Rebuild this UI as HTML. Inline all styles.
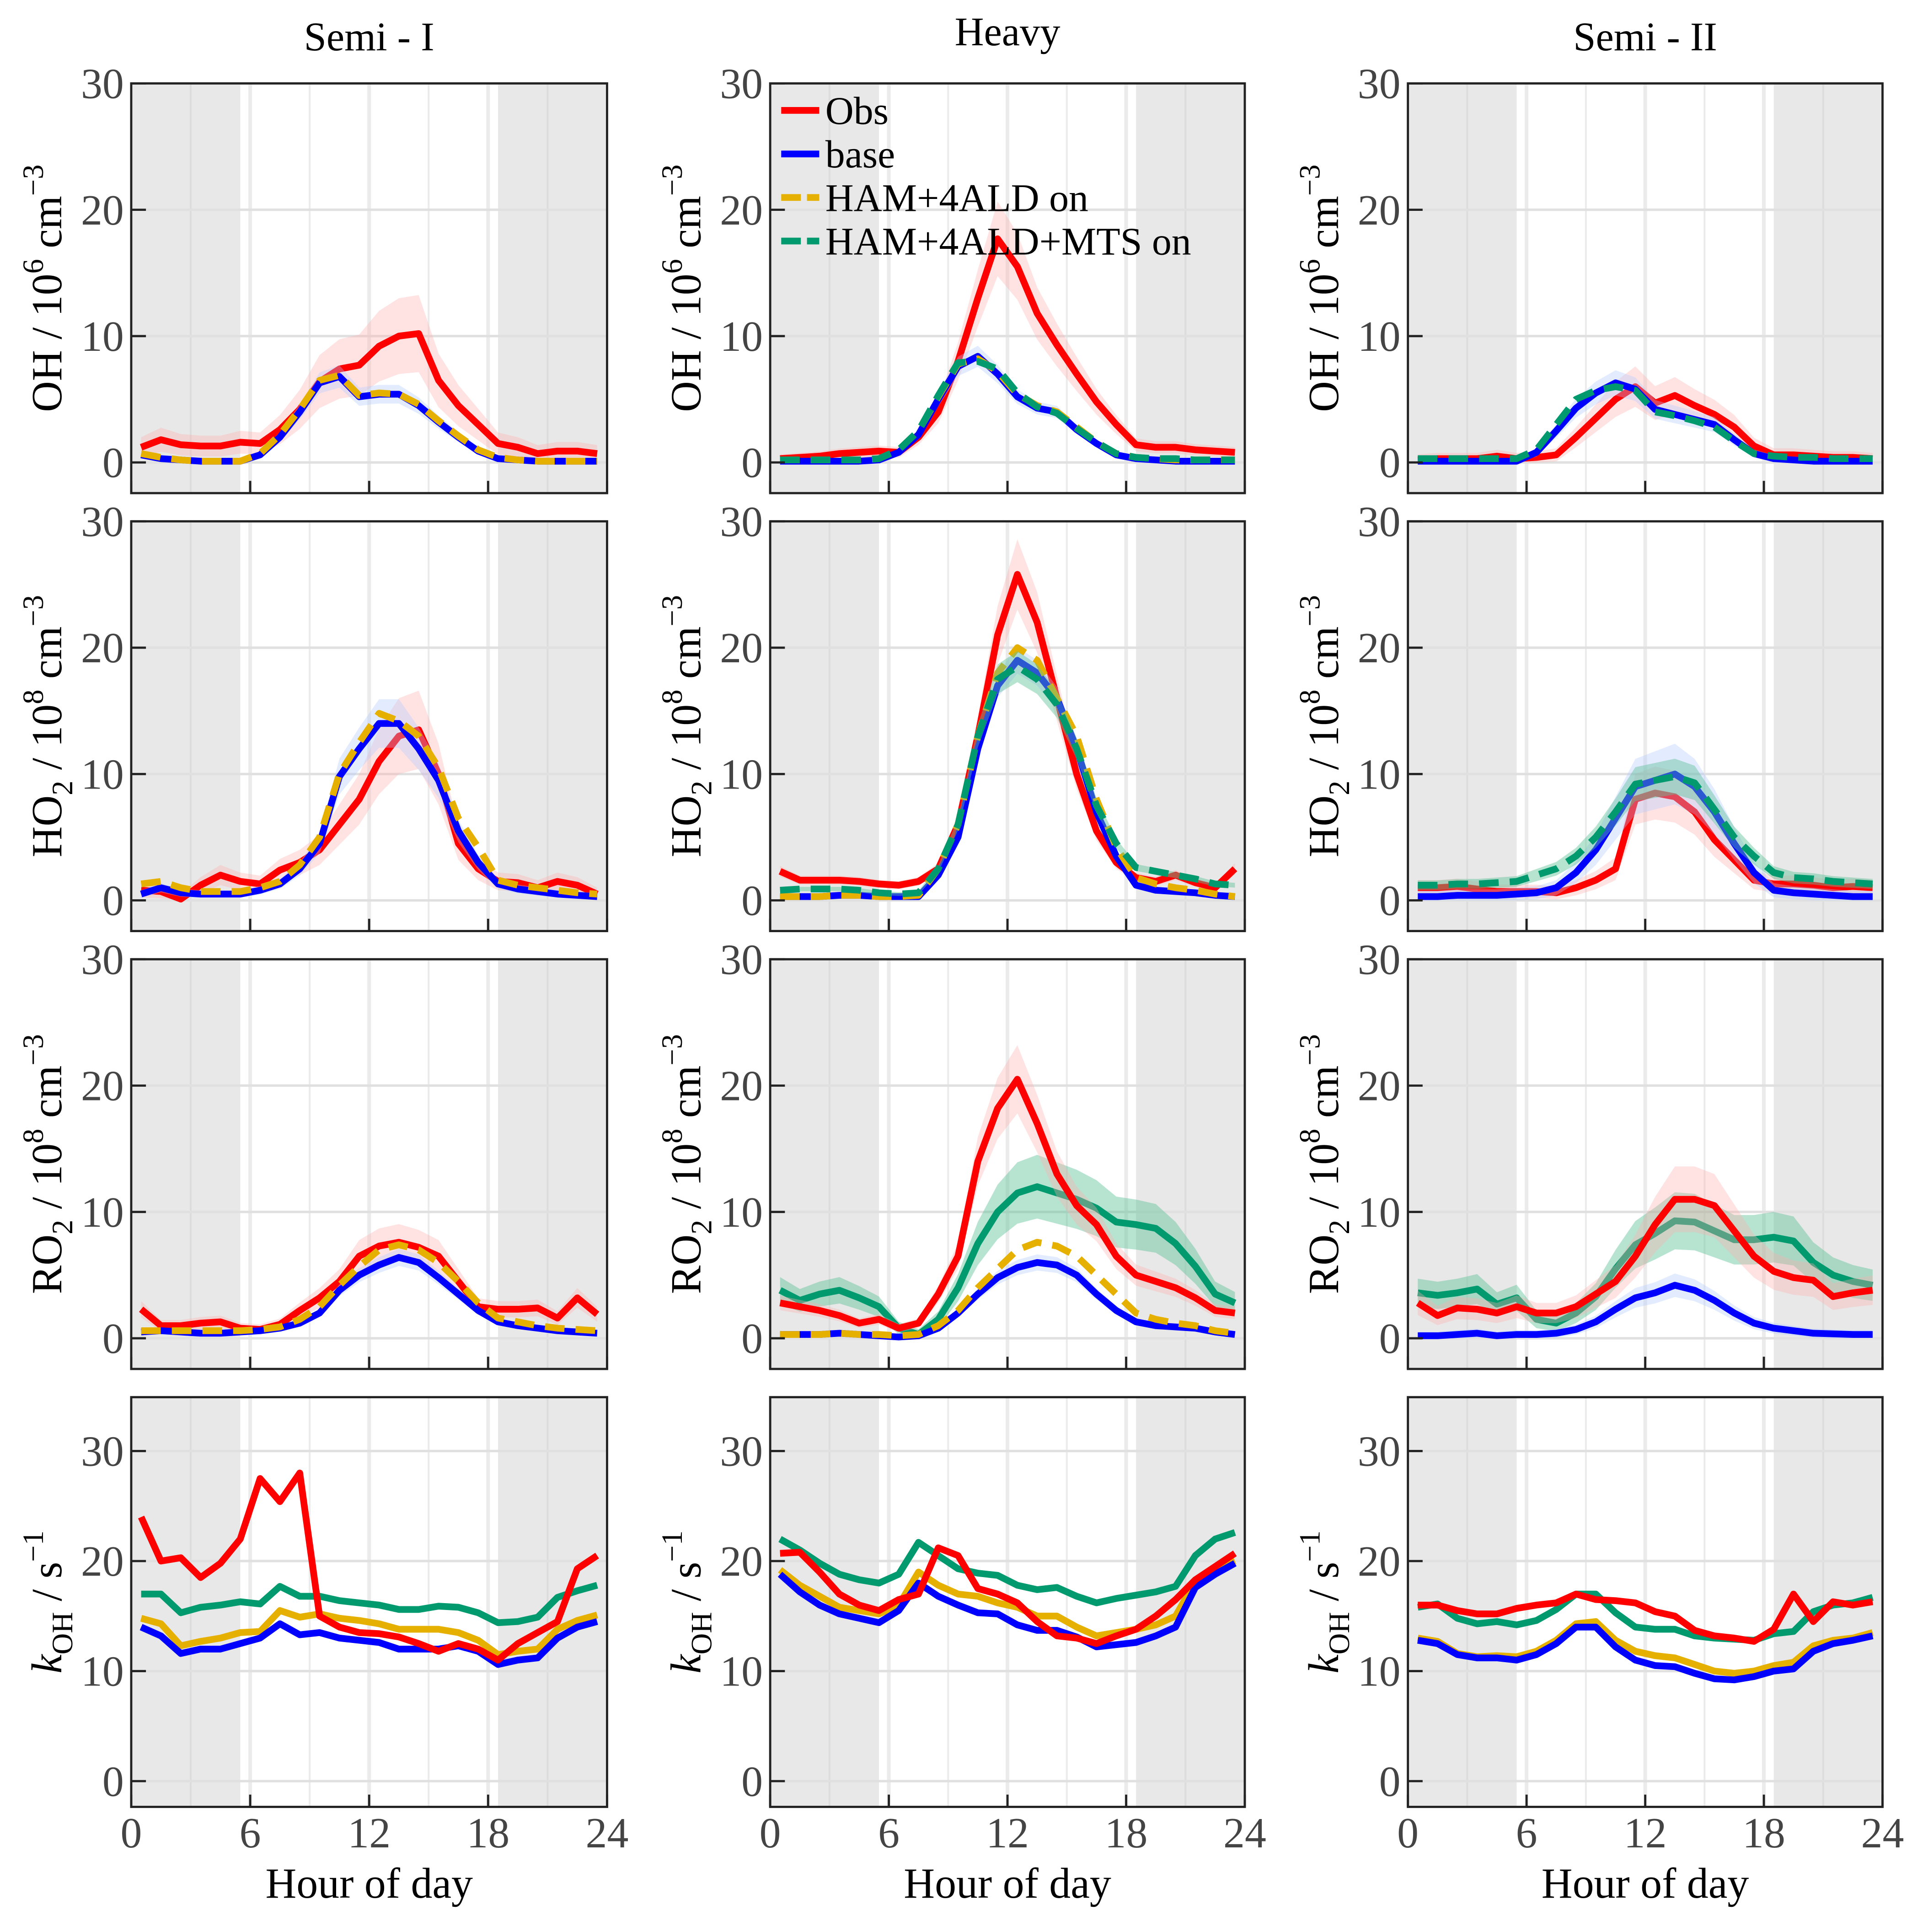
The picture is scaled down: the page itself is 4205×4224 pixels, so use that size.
<!DOCTYPE html>
<html><head><meta charset="utf-8">
<style>
html,body{margin:0;padding:0;background:#fff;}
svg{display:block;font-family:"Liberation Serif",serif;}
</style></head>
<body>
<svg id="fig" width="4205" height="4224" viewBox="0 0 1568 1575" preserveAspectRatio="none" xmlns="http://www.w3.org/2000/svg"></svg>
<script>
// ---- data (hourly means at hour+0.5) ----
const hours = [0.5,1.5,2.5,3.5,4.5,5.5,6.5,7.5,8.5,9.5,10.5,11.5,12.5,13.5,14.5,15.5,16.5,17.5,18.5,19.5,20.5,21.5,22.5,23.5];
const xTicks = [0,6,12,18,24];
const yTicks = [0,10,20,30];
const colTitles = ["Semi - I","Heavy","Semi - II"];
// OH
const ohS1Obs  = [1.2,1.8,1.4,1.3,1.3,1.6,1.5,2.6,4.2,6.4,7.4,7.7,9.2,10,10.2,6.5,4.5,3,1.5,1.2,0.7,0.9,0.9,0.7];
const ohS1Base = [0.6,0.3,0.2,0.1,0.1,0.1,0.6,2,4,6.3,6.8,5.2,5.4,5.4,4.5,3.2,2,0.9,0.3,0.2,0.1,0.1,0.1,0.1];
const ohS1Ham  = [0.7,0.4,0.2,0.1,0.1,0.1,0.7,2.2,4.2,6.5,6.9,5.3,5.5,5.4,4.6,3.3,2.1,1,0.4,0.2,0.1,0.1,0.1,0.1];
const ohHvObs  = [0.3,0.4,0.5,0.7,0.8,0.9,0.8,2,4,8,13,17.7,15.5,11.8,9.3,7,4.8,3,1.4,1.2,1.2,1,0.9,0.8];
const ohHvBase = [0.1,0.1,0.1,0.1,0.1,0.2,0.8,2.2,5,7.6,8.4,7,5.2,4.3,4,2.6,1.5,0.6,0.3,0.2,0.1,0.1,0.1,0.1];
const ohHvHam  = [0.2,0.2,0.2,0.2,0.2,0.3,1,2.5,5.2,7.8,8.2,7.2,5.4,4.5,4,2.8,1.6,0.7,0.4,0.3,0.2,0.2,0.2,0.2];
const ohHvMts  = [0.2,0.2,0.2,0.2,0.2,0.3,1,2.5,5.3,7.9,8,7.4,5.5,4.4,3.9,2.7,1.6,0.7,0.4,0.3,0.3,0.2,0.2,0.2];
const ohS2Obs  = [0.2,0.3,0.3,0.3,0.5,0.3,0.4,0.6,2,3.5,5,6,4.7,5.3,4.5,3.8,2.8,1.3,0.6,0.6,0.5,0.4,0.4,0.3];
const ohS2Base = [0.1,0.1,0.1,0.1,0.1,0.1,0.8,2.5,4.3,5.5,6.3,5.8,4.2,3.8,3.4,3,1.8,0.7,0.3,0.2,0.1,0.1,0.1,0.1];
const ohS2Mts  = [0.3,0.3,0.3,0.3,0.3,0.3,1,3,5,5.7,6,5.7,4,3.7,3.3,2.8,1.7,0.7,0.5,0.4,0.4,0.3,0.3,0.3];
// HO2
const ho2S1Obs  = [0.8,0.7,0.1,1.2,2,1.5,1.3,2.4,3,4,6,8,11,13,13.5,10,4.5,2.5,1.5,1.4,1,1.5,1.2,0.5];
const ho2S1Base = [0.5,1,0.6,0.5,0.5,0.5,0.8,1.3,2.5,4.5,9.8,12,14,14,12,9.5,5.5,3,1.3,0.9,0.7,0.5,0.4,0.3];
const ho2S1Ham  = [1.3,1.5,1,0.7,0.7,0.7,1,1.5,2.8,5,10,12.5,14.8,14.2,13,10.5,6.5,4.2,1.6,1.2,1,0.8,0.6,0.5];
const ho2HvObs  = [2.3,1.6,1.6,1.6,1.5,1.3,1.2,1.5,2.5,6,13,21,25.8,22,16,10,5.5,3,1.8,1.5,2,1.4,1,2.5];
const ho2HvBase = [0.3,0.3,0.3,0.4,0.4,0.3,0.3,0.3,2,5,12,17,19,18,16,12,7,3.5,1.2,0.8,0.7,0.6,0.4,0.3];
const ho2HvHam  = [0.3,0.3,0.3,0.4,0.4,0.3,0.3,0.4,2.5,6,13,18,20,19,16,13,8,4.2,1.8,1.3,1,0.8,0.5,0.3];
const ho2HvMts  = [0.8,0.9,0.9,0.9,0.8,0.6,0.5,0.6,2.5,6,13,17.5,18.5,17.5,15.5,12,7.5,4.5,2.6,2.3,2,1.7,1.3,1.2];
const ho2S2Obs  = [1,1,1.1,0.9,0.7,0.7,0.7,0.6,1,1.6,2.5,8,8.5,8.2,7,4.8,3.2,1.6,1.3,1.3,1.2,1,1.1,1];
const ho2S2Base = [0.3,0.3,0.4,0.4,0.4,0.5,0.6,1,2.2,4,6.5,9,9.5,10,9,7,4.5,2.2,0.8,0.6,0.5,0.4,0.3,0.3];
const ho2S2Mts  = [1.2,1.2,1.3,1.3,1.4,1.5,2,2.5,3.5,5,7,9.2,9.5,9.8,9.3,7.2,5,3.5,2.2,1.8,1.7,1.5,1.4,1.3];
// RO2
const ro2S1Obs  = [2.3,1,1,1.2,1.3,0.8,0.7,1.1,2.2,3.2,4.5,6.5,7.3,7.6,7.2,6.5,4.5,2.5,2.3,2.3,2.4,1.6,3.2,1.9];
const ro2S1Base = [0.5,0.6,0.5,0.4,0.4,0.5,0.6,0.8,1.2,2,3.8,5,5.8,6.4,6,4.8,3.5,2.2,1.3,1,0.8,0.6,0.5,0.4];
const ro2S1Ham  = [0.6,0.6,0.6,0.6,0.6,0.6,0.7,0.9,1.5,2.5,4.2,5.7,7,7.4,7,6,4.5,2.8,1.6,1.3,1,0.8,0.7,0.6];
const ro2HvObs  = [2.8,2.5,2.2,1.8,1.2,1.5,0.8,1.2,3.5,6.5,14,18.2,20.5,17,13,10.5,9,6.5,5,4.5,4,3.2,2.2,2];
const ro2HvBase = [0.3,0.3,0.3,0.4,0.3,0.2,0.1,0.2,0.8,2,3.5,4.8,5.6,6,5.8,5,3.5,2.2,1.3,1,0.9,0.8,0.5,0.3];
const ro2HvHam  = [0.3,0.3,0.3,0.4,0.3,0.3,0.2,0.3,1,2.2,4,5.5,7,7.6,7.3,6.5,5,3.5,2,1.5,1.2,1,0.6,0.4];
const ro2HvMts  = [3.8,3,3.5,3.8,3.2,2.5,0.8,0.3,1.5,4,7.5,10,11.5,12,11.5,11,10.3,9.2,9,8.7,7.5,5.7,3.5,2.8];
const ro2S2Obs  = [2.8,1.8,2.4,2.3,2.0,2.5,2,2,2.5,3.5,4.5,6.5,9,11,11,10.5,8.5,6.5,5.3,4.8,4.6,3.3,3.6,3.8];
const ro2S2Base = [0.2,0.2,0.3,0.4,0.2,0.3,0.3,0.4,0.7,1.3,2.3,3.2,3.6,4.2,3.8,3,2,1.2,0.8,0.6,0.4,0.35,0.3,0.3];
const ro2S2Mts  = [3.6,3.4,3.6,3.9,2.7,3.2,1.5,1.2,2,3.3,5.5,7.4,8.3,9.3,9.2,8.5,7.8,7.8,8,7.7,6,5,4.5,4.2];
// kOH
const kS1Obs  = [24,20,20.3,18.5,19.8,22,27.5,25.4,28,15,14,13.5,13.4,13.1,12.5,11.8,12.5,12,11,12.5,13.5,14.5,19.3,20.5];
const kS1Base = [14,13.2,11.6,12,12,12.5,13,14.3,13.3,13.5,13,12.8,12.6,12,12,12,12.3,11.8,10.6,11,11.2,13,14,14.5];
const kS1Ham  = [14.8,14.3,12.3,12.7,13,13.5,13.6,15.5,14.9,15.2,14.8,14.6,14.3,13.8,13.8,13.8,13.5,12.8,11.5,11.8,12,13.8,14.6,15.1];
const kS1Mts  = [17,17,15.3,15.8,16,16.3,16.1,17.7,16.8,16.8,16.4,16.2,16,15.6,15.6,15.9,15.8,15.3,14.4,14.5,14.9,16.7,17.3,17.8];
const kHvObs  = [20.7,20.8,19,17,16,15.5,16.5,17,21.2,20.5,17.5,17,16.2,14.5,13.2,13,12.5,13.2,13.8,15,16.5,18.3,19.5,20.7];
const kHvBase = [18.8,17.2,16,15.2,14.8,14.4,15.5,18,16.8,16,15.3,15.2,14.2,13.7,13.7,13.1,12.2,12.4,12.6,13.2,14,17.6,18.8,19.8];
const kHvHam  = [19.2,17.8,16.8,15.8,15.5,15.2,16,19,17.8,17,16.8,16.2,15.8,15,15,14,13.2,13.5,13.8,14.2,15,18.2,19.3,20];
const kHvMts  = [22,21,19.8,18.8,18.3,18,18.8,21.7,20.5,19.3,18.9,18.7,17.8,17.4,17.6,16.8,16.2,16.6,16.9,17.2,17.7,20.5,22,22.6];
const kS2Obs  = [16,16,15.5,15.2,15.2,15.7,16,16.2,17,16.5,16.4,16.2,15.4,15,13.7,13.2,13,12.7,13.8,17,14.5,16.3,16,16.3];
const kS2Base = [12.8,12.5,11.5,11.2,11.2,11,11.5,12.5,14,14,12.2,11,10.5,10.4,9.8,9.3,9.2,9.5,10,10.2,11.8,12.5,12.8,13.2];
const kS2Ham  = [13,12.7,11.6,11.3,11.4,11.3,11.8,12.8,14.3,14.5,12.8,11.8,11.4,11.2,10.6,10,9.8,10,10.5,10.8,12.3,12.8,13,13.5];
const kS2Mts  = [15.8,16.1,14.8,14.3,14.5,14.2,14.6,15.6,17,17,15.3,14,13.8,13.8,13.2,13,12.9,12.8,13.4,13.6,15.4,16,16.2,16.7];

const C = {obs:"#ff0000", base:"#0000ff", ham:"#e6b000", mts:"#009a6e"};
const colX = [[107,495],[628,1015],[1148,1535]];
const rowY = [[68,402],[425,759],[782,1116],[1139,1473]];
const zeroY = [377,734,1091,1452];
const perUnit = [10.3,10.3,10.3,8.97];
const NS = "http://www.w3.org/2000/svg";
const svg = document.getElementById("fig");
function mk(tag, attrs, parent){const e=document.createElementNS(NS,tag);for(const k in attrs)e.setAttribute(k,attrs[k]);(parent||svg).appendChild(e);return e;}

const panels = [
 [ {series:[["obs",ohS1Obs,0.25],["base",ohS1Base,0.1],["ham",ohS1Ham,0,1]]},
   {series:[["obs",ohHvObs,0.15],["base",ohHvBase,0.08],["ham",ohHvHam,0,1],["mts",ohHvMts,0,1]]},
   {series:[["obs",ohS2Obs,0.2],["base",ohS2Base,0.12],["mts",ohS2Mts,0,1]]} ],
 [ {series:[["obs",ho2S1Obs,0.2],["base",ho2S1Base,0.12],["ham",ho2S1Ham,0,1]]},
   {series:[["obs",ho2HvObs,0.1],["base",ho2HvBase,0.05],["ham",ho2HvHam,0,1],["mts",ho2HvMts,0.06,1]]},
   {series:[["obs",ho2S2Obs,0.2],["base",ho2S2Base,0.2],["mts",ho2S2Mts,0.12,1]]} ],
 [ {series:[["obs",ro2S1Obs,0.15],["base",ro2S1Base,0.08],["ham",ro2S1Ham,0,1]]},
   {series:[["mts",ro2HvMts,0.18],["obs",ro2HvObs,0.12],["base",ro2HvBase,0.08],["ham",ro2HvHam,0,1]]},
   {series:[["mts",ro2S2Mts,0.2],["obs",ro2S2Obs,0.2],["base",ro2S2Base,0.15]]} ],
 [ {series:[["mts",kS1Mts,0],["ham",kS1Ham,0],["base",kS1Base,0],["obs",kS1Obs,0]]},
   {series:[["mts",kHvMts,0],["ham",kHvHam,0],["base",kHvBase,0],["obs",kHvObs,0]]},
   {series:[["mts",kS2Mts,0],["obs",kS2Obs,0],["ham",kS2Ham,0],["base",kS2Base,0]]} ]
];
const varNames = ["oh","ho2","ro2","koh"];

for(let r=0;r<4;r++){
 for(let c=0;c<3;c++){
  const [x0,x1]=colX[c],[y0,y1]=rowY[r];
  const xs=h=>x0+(x1-x0)*h/24;
  const ys=v=>zeroY[r]-v*perUnit[r];
  const g=mk("g",{});
  
  
  mk("rect",{x:xs(0),y:y0,width:xs(5.5)-xs(0),height:y1-y0,fill:"#e8e8e8"},g);
  mk("rect",{x:xs(18.5),y:y0,width:xs(24)-xs(18.5),height:y1-y0,fill:"#e8e8e8"},g);
  [3,6,9,12,15,18,21].forEach(h=>{
    const w=(h%6===0)?3:1.5;
    mk("line",{x1:xs(h),x2:xs(h),y1:y0,y2:y1,stroke:(h<5.5||h>18.5)?"#dcdcdc":"#ebebeb","stroke-width":w},g);
  });
  yTicks.forEach(v=>mk("line",{x1:x0,x2:x1,y1:ys(v),y2:ys(v),stroke:"#e0e0e0","stroke-width":2},g));
  panels[r][c].series.forEach(([key,vals,band,dash])=>{
    if(band>0){
      let up=hours.map((h,i)=>xs(h)+","+ys(vals[i]*(1+band)+band*2)).join(" ");
      let lo=hours.map((h,i)=>xs(h)+","+ys(Math.max(0,vals[i]*(1-band)-band*2))).reverse().join(" ");
      const fill = key==="obs"?"#ffb0b0":key==="base"?"#b0c8ff":key==="mts"?"#60c09a":"#f5d880";
      const op = key==="mts"?0.45:0.35;
      const b=mk("polygon",{points:up+" "+lo,fill:fill,"fill-opacity":op},g);
      
      
    }
    const pts=hours.map((h,i)=>xs(h)+","+ys(vals[i])).join(" ");
    const l=mk("polyline",{points:pts,fill:"none",stroke:C[key],"stroke-width":5.5,"stroke-linejoin":"round"},g);
    if(dash) l.setAttribute("stroke-dasharray","16 9");
    
    
  });
  mk("rect",{x:x0,y:y0,width:x1-x0,height:y1-y0,fill:"none",stroke:"#222","stroke-width":1.8},g);
  yTicks.forEach(v=>{
    mk("line",{x1:x0,x2:x0+12,y1:ys(v),y2:ys(v),stroke:"#222","stroke-width":1.8},g);
    const t=mk("text",{x:x0-6,y:ys(v)+12,"text-anchor":"end","font-size":35,fill:"#444"},g);
    t.textContent=v;
    
    
  });
  xTicks.forEach(h=>{
    mk("line",{x1:xs(h),x2:xs(h),y1:y1,y2:y1-10,stroke:"#222","stroke-width":1.8},g);
    if(r===3){
      const t=mk("text",{x:xs(h),y:1506,"text-anchor":"middle","font-size":35,fill:"#444"},g);
      t.textContent=h;
      
      
    }
  });
  const cy=(y0+y1)/2, lx=x0-57;
  const yl=mk("text",{x:0,y:0,transform:`translate(${lx},${cy}) rotate(-90)`,"text-anchor":"middle","font-size":35,fill:"#000"},g);
  
  
  if(r<3){
    const sp=["OH","HO","RO"][r];
    const exp=r===0?"6":"8";
    yl.innerHTML = sp + (r>0?'<tspan dy="9" font-size="24">2</tspan><tspan dy="-9"> / 10</tspan>':' / 10') +
      '<tspan dy="-15" font-size="24">'+exp+'</tspan><tspan dy="15"> cm</tspan><tspan dy="-15" font-size="24">−3</tspan>';
  } else {
    yl.innerHTML = '<tspan font-style="italic">k</tspan><tspan dy="9" font-size="24">OH</tspan><tspan dy="-9"> / s</tspan><tspan dy="-15" font-size="24">−1</tspan>';
  }
  if(r===3){
    const xl=mk("text",{x:(x0+x1)/2,y:1547,"text-anchor":"middle","font-size":35,fill:"#000"},g);
    xl.textContent="Hour of day";
    
    
  }
  if(r===0){
    const tt=mk("text",{x:(x0+x1)/2,y:c===1?37:41,"text-anchor":"middle","font-size":33,fill:"#000"},g);
    tt.textContent=colTitles[c];
    
    
  }
 }
}
const legendLabels=[["obs","Obs",0],["base","base",0],["ham","HAM+4ALD on",1],["mts","HAM+4ALD+MTS on",1]];
const lg=mk("g",{});


legendLabels.forEach(([k,lab,d],i)=>{
  const y=90+i*35.5;
  const ln=mk("line",{x1:637,x2:668,y1:y,y2:y,stroke:C[k],"stroke-width":5.5},lg);
  if(d) ln.setAttribute("stroke-dasharray","16 5");
  
  
  const t=mk("text",{x:673,y:y+11,"font-size":32,fill:"#000"},lg);
  t.textContent=lab;
  
  
});
</script>
</body></html>
